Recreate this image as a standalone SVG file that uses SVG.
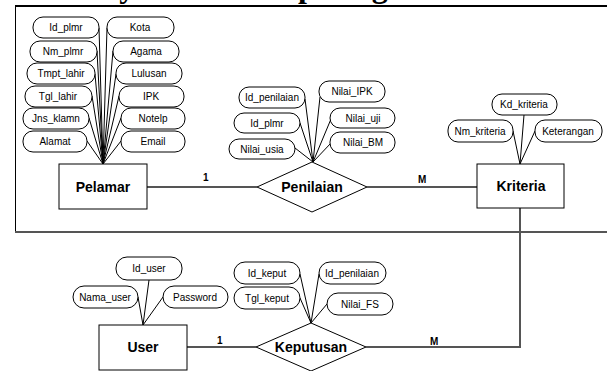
<svg xmlns="http://www.w3.org/2000/svg" width="607" height="371" viewBox="0 0 607 371">
<style>
.attr rect{fill:#fff;stroke:#000;stroke-width:1}
.attr text{font-family:"Liberation Sans",Arial,sans-serif;font-size:10px;text-anchor:middle;fill:#000}
.ent rect,.rel polygon{fill:#fff;stroke:#000;stroke-width:1}
.ent text,.rel text{font-family:"Liberation Sans",Arial,sans-serif;font-size:14px;font-weight:bold;text-anchor:middle;fill:#000}
.al line{stroke:#000;stroke-width:1}
.rl{fill:none;stroke:#555;stroke-width:2}
.card{font-family:"Liberation Sans",Arial,sans-serif;font-size:10px;font-weight:bold;fill:#000}
</style>
<rect width="607" height="371" fill="#fff"/>
<text x="50" y="-3" font-family="Liberation Serif,'Times New Roman',serif" font-size="32" font-weight="bold">Entity Relationship Diagram</text>
<g id="frame">
<line x1="15" y1="6" x2="610" y2="6" stroke="#000" stroke-width="2"/>
<line x1="15.5" y1="6" x2="15.5" y2="232" stroke="#000" stroke-width="1"/>
<line x1="15" y1="232" x2="610" y2="232" stroke="#555" stroke-width="2"/>
</g>
<g id="connectors">
<g class="al">
<line x1="99" y1="28" x2="103" y2="164"/>
<line x1="97" y1="51" x2="103" y2="164"/>
<line x1="95" y1="74" x2="103" y2="164"/>
<line x1="92" y1="96" x2="103" y2="164"/>
<line x1="89" y1="118" x2="103" y2="164"/>
<line x1="87" y1="141" x2="103" y2="164"/>
<line x1="107" y1="28" x2="103" y2="164"/>
<line x1="113" y1="51" x2="103" y2="164"/>
<line x1="116" y1="74" x2="103" y2="164"/>
<line x1="119" y1="96" x2="103" y2="164"/>
<line x1="121" y1="118" x2="103" y2="164"/>
<line x1="121" y1="141" x2="103" y2="164"/>
<line x1="305" y1="99" x2="313" y2="162"/>
<line x1="300" y1="123" x2="313" y2="162"/>
<line x1="295" y1="148" x2="313" y2="162"/>
<line x1="320" y1="97" x2="313" y2="162"/>
<line x1="331" y1="119" x2="313" y2="162"/>
<line x1="331" y1="143" x2="313" y2="162"/>
<line x1="524" y1="115" x2="520" y2="164"/>
<line x1="513" y1="131" x2="520" y2="164"/>
<line x1="535" y1="131" x2="520" y2="164"/>
<line x1="149" y1="280" x2="143" y2="325"/>
<line x1="138" y1="297" x2="143" y2="325"/>
<line x1="163" y1="297" x2="143" y2="325"/>
<line x1="300" y1="274" x2="311" y2="323"/>
<line x1="300" y1="298" x2="311" y2="323"/>
<line x1="319" y1="274" x2="311" y2="323"/>
<line x1="327" y1="304" x2="311" y2="323"/>
</g>
<line class="rl" x1="147" y1="187" x2="257" y2="187"/>
<line class="rl" x1="367" y1="187" x2="477" y2="187"/>
<line class="rl" x1="187" y1="347" x2="256" y2="347"/>
<polyline class="rl" points="366,347 520,347 520,208"/>
<text class="card" x="203" y="181">1</text>
<text class="card" x="418" y="183">M</text>
<text class="card" x="217" y="344">1</text>
<text class="card" x="430" y="345">M</text>
</g>
<g id="pelamar" class="ent"><rect x="59" y="164" width="88" height="45"/><text x="103" y="192">Pelamar</text></g>
<g id="penilaian" class="rel"><polygon points="257,187 312,162 367,187 312,212"/><text x="312" y="192">Penilaian</text></g>
<g id="kriteria" class="ent"><rect x="477" y="164" width="87" height="44"/><text x="521" y="191">Kriteria</text></g>
<g id="user" class="ent"><rect x="99" y="325" width="88" height="45"/><text x="143" y="352">User</text></g>
<g id="keputusan" class="rel"><polygon points="256,347 311,323 366,347 311,371"/><text x="311" y="352">Keputusan</text></g>
<g id="a_id_plmr" class="attr"><rect x="33" y="17" width="66" height="21" rx="10"/><text x="66" y="31">Id_plmr</text></g>
<g id="a_nm_plmr" class="attr"><rect x="30" y="41" width="67" height="21" rx="10"/><text x="63" y="55">Nm_plmr</text></g>
<g id="a_tmpt_lahir" class="attr"><rect x="27" y="63" width="68" height="21" rx="10"/><text x="61" y="77">Tmpt_lahir</text></g>
<g id="a_tgl_lahir" class="attr"><rect x="25" y="86" width="67" height="21" rx="10"/><text x="58" y="100">Tgl_lahir</text></g>
<g id="a_jns_klamn" class="attr"><rect x="23" y="108" width="66" height="21" rx="10"/><text x="56" y="122">Jns_klamn</text></g>
<g id="a_alamat" class="attr"><rect x="23" y="131" width="64" height="21" rx="10"/><text x="55" y="145">Alamat</text></g>
<g id="a_kota" class="attr"><rect x="107" y="17" width="67" height="21" rx="10"/><text x="140" y="31">Kota</text></g>
<g id="a_agama" class="attr"><rect x="113" y="41" width="66" height="21" rx="10"/><text x="146" y="55">Agama</text></g>
<g id="a_lulusan" class="attr"><rect x="116" y="63" width="66" height="21" rx="10"/><text x="149" y="77">Lulusan</text></g>
<g id="a_ipk" class="attr"><rect x="119" y="86" width="65" height="21" rx="10"/><text x="151" y="100">IPK</text></g>
<g id="a_notelp" class="attr"><rect x="121" y="108" width="64" height="21" rx="10"/><text x="153" y="122">Notelp</text></g>
<g id="a_email" class="attr"><rect x="121" y="131" width="64" height="21" rx="10"/><text x="153" y="145">Email</text></g>
<g id="a_id_penilaian" class="attr"><rect x="239" y="87" width="66" height="21" rx="10"/><text x="272" y="101">Id_penilaian</text></g>
<g id="a_id_plmr2" class="attr"><rect x="234" y="113" width="66" height="20" rx="10"/><text x="267" y="127">Id_plmr</text></g>
<g id="a_nilai_usia" class="attr"><rect x="229" y="139" width="66" height="20" rx="10"/><text x="262" y="153">Nilai_usia</text></g>
<g id="a_nilai_ipk" class="attr"><rect x="319" y="81" width="66" height="21" rx="10"/><text x="352" y="95">Nilai_IPK</text></g>
<g id="a_nilai_uji" class="attr"><rect x="330" y="108" width="65" height="20" rx="10"/><text x="363" y="122">Nilai_uji</text></g>
<g id="a_nilai_bm" class="attr"><rect x="330" y="132" width="65" height="21" rx="10"/><text x="363" y="146">Nilai_BM</text></g>
<g id="a_kd_kriteria" class="attr"><rect x="492" y="94" width="65" height="21" rx="10"/><text x="524" y="108">Kd_kriteria</text></g>
<g id="a_nm_kriteria" class="attr"><rect x="448" y="120" width="65" height="22" rx="10"/><text x="480" y="135">Nm_kriteria</text></g>
<g id="a_keterangan" class="attr"><rect x="535" y="120" width="67" height="22" rx="10"/><text x="568" y="135">Keterangan</text></g>
<g id="a_id_user" class="attr"><rect x="116" y="257" width="66" height="23" rx="11"/><text x="149" y="272">Id_user</text></g>
<g id="a_nama_user" class="attr"><rect x="73" y="286" width="65" height="22" rx="11"/><text x="105" y="301">Nama_user</text></g>
<g id="a_password" class="attr"><rect x="163" y="286" width="65" height="22" rx="11"/><text x="195" y="301">Password</text></g>
<g id="a_id_keput" class="attr"><rect x="234" y="262" width="66" height="22" rx="11"/><text x="267" y="277">Id_keput</text></g>
<g id="a_tgl_keput" class="attr"><rect x="234" y="287" width="66" height="22" rx="11"/><text x="267" y="302">Tgl_keput</text></g>
<g id="a_id_penilaian2" class="attr"><rect x="319" y="262" width="67" height="22" rx="11"/><text x="352" y="277">Id_penilaian</text></g>
<g id="a_nilai_fs" class="attr"><rect x="327" y="293" width="66" height="22" rx="11"/><text x="360" y="308">Nilai_FS</text></g>
</svg>
